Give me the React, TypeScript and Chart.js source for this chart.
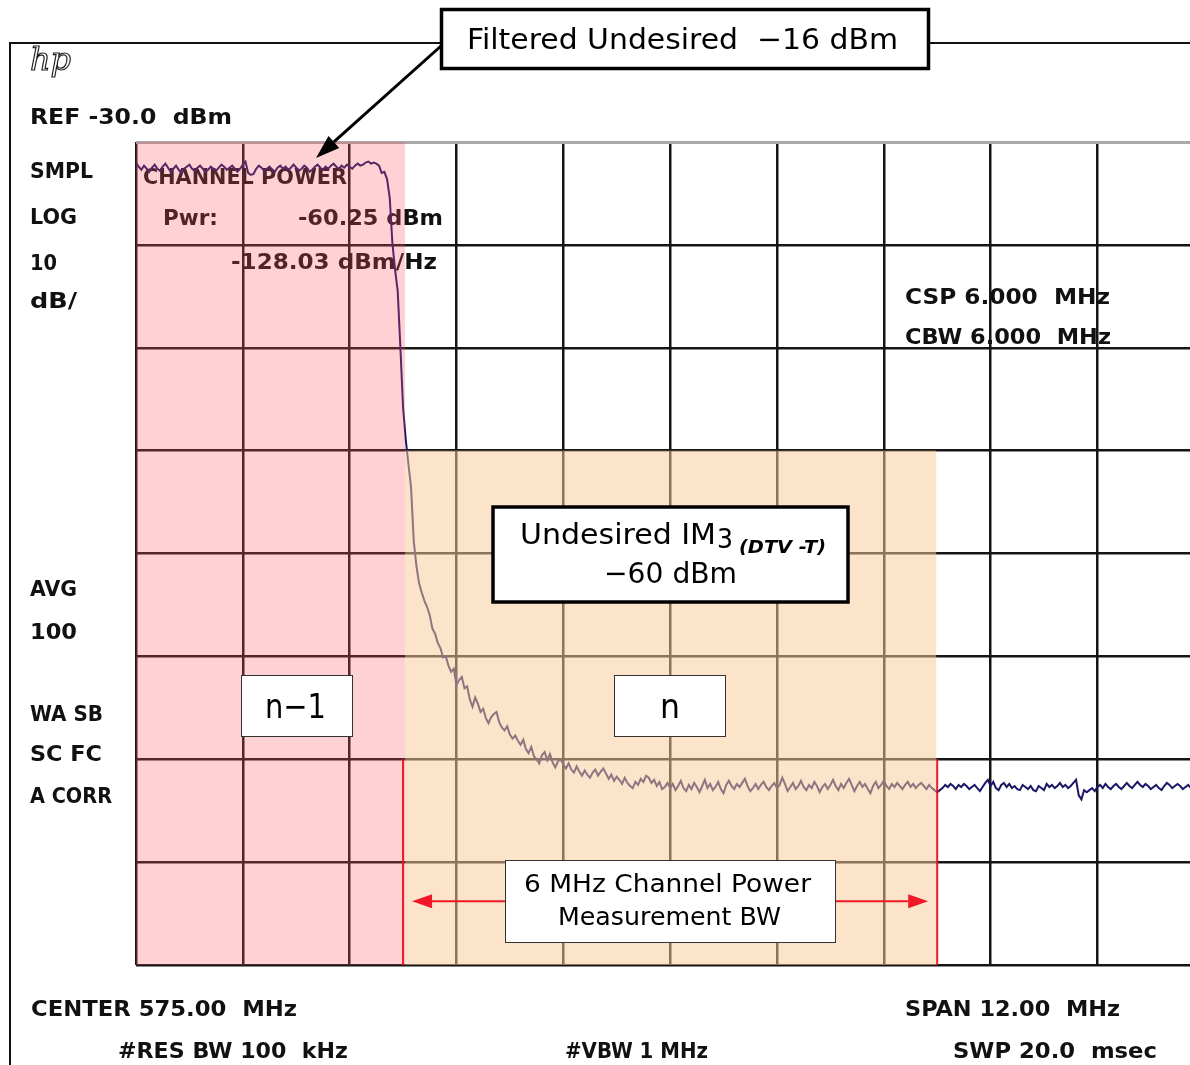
import React, { useEffect, useRef } from "react";
import { Chart, registerables } from "chart.js";

Chart.register(...registerables);

// Sweep: 401 points, CENTER 575.00 MHz, SPAN 12.00 MHz
const START_MHZ = 569;
const STEP_MHZ = 0.03;
const VIEW_MAX_MHZ = 580.84;

// Trace levels in dBm, point by point
const TRACE_PASSBAND = [
  -32.0, -32.4, -32.7, -32.3, -32.6, -32.9, -32.5, -32.2, -32.6, -32.8,
  -32.4, -32.1, -32.5, -32.9, -32.6, -32.3, -32.7, -33.0, -32.6, -32.4,
  -32.2, -32.6, -32.8, -32.5, -32.3, -32.6, -32.9, -32.7, -32.4, -32.6,
  -32.8, -32.5, -32.2, -32.4, -32.7, -32.5, -32.3, -32.6, -32.9, -32.6,
  -32.2, -31.9, -33.0, -33.2, -33.1, -32.6, -32.3, -32.5, -32.8, -32.6,
  -32.4, -32.7, -32.9, -32.5, -32.3, -32.6, -32.4, -32.7, -32.5, -32.2,
  -32.5, -32.8, -32.6, -32.3, -32.5, -32.9, -32.7, -32.4, -32.2, -32.5,
  -32.7, -32.4, -32.6, -32.3, -32.1, -32.4, -32.6, -32.3, -32.5, -32.2,
  -32.4, -32.6, -32.3, -32.1, -32.3, -32.2, -32.0, -31.9, -32.1, -32.0,
  -32.1, -32.3, -33.0,
];

const TRACE_SKIRT = [
  -32.9, -33.6, -35.4, -39.8, -42.4, -44.5, -50.0,
  -55.8, -58.9, -61.3, -63.6, -68.8, -71.2, -72.9, -73.8, -74.6, -75.2,
  -76.0, -77.3, -77.8, -78.7, -79.2, -80.1, -80.0, -80.9, -81.5, -81.2,
  -82.8, -82.3, -82.0, -83.1, -82.9, -84.2, -84.9, -84.0, -84.6, -85.4,
  -85.1, -86.0, -86.5, -85.9, -85.6, -85.4, -86.4, -86.9, -87.2, -86.8,
  -87.6, -88.0, -87.7, -88.2, -88.6, -88.1, -89.0, -89.4, -88.8, -89.7,
  -90.0, -90.4, -89.6, -89.3, -90.1, -89.5, -90.3, -90.8, -90.2, -90.0,
  -90.5, -90.9, -90.4, -91.0, -91.3, -90.7, -91.2, -91.6, -91.1, -91.5,
  -91.8, -91.3, -91.0, -91.6, -91.2, -90.9, -91.4, -91.9, -91.5, -92.1,
  -91.7, -92.0, -92.4, -91.8, -92.3, -92.6, -92.8, -92.2, -92.5, -91.9,
  -92.2, -91.6, -91.8, -92.3, -92.0, -92.6, -92.2, -92.9, -92.7, -92.3,
  -92.8,
];

const TRACE_FLOOR = [
  -92.4, -93.0, -92.6, -92.1, -92.8, -93.1, -92.5, -92.9, -92.3, -92.7,
  -93.2, -92.6, -92.0, -92.8, -92.4, -93.0, -92.7, -92.2, -92.9, -93.3,
  -92.5, -92.1, -92.6, -92.9, -92.4, -92.7, -92.3, -91.9, -92.6, -93.1,
  -92.8, -92.4, -92.9, -92.5, -92.2, -92.7, -93.0, -92.6, -92.3, -92.8,
  -92.5, -91.8, -92.4, -93.1, -92.7, -92.3, -92.9, -92.6, -92.1, -92.7,
  -93.0, -92.5, -92.8, -92.2, -92.6, -93.2, -92.7, -92.4, -92.9, -92.5,
  -92.0, -92.6, -93.0, -92.4, -92.8, -92.3, -91.9, -92.5, -93.1, -92.6,
  -92.2, -92.7, -92.4, -92.9, -93.3, -92.6, -92.2, -92.8, -92.5, -92.1,
  -92.6, -92.9, -92.4, -92.7, -92.3, -92.6, -92.9, -92.5, -92.2, -92.7,
  -92.4, -92.8, -92.5, -92.3, -92.6, -92.9, -92.5, -92.8, -93.0, -93.2,
  -93.0, -92.8, -92.5, -92.7, -92.4, -92.6, -92.9, -92.5, -92.7, -92.4,
  -92.6, -92.9, -92.7, -92.5, -92.8, -93.1, -92.7, -92.3, -92.0, -92.6,
  -92.2, -92.8, -93.0, -92.5, -92.3, -92.7, -92.4, -92.8, -92.6, -92.9,
  -93.0, -92.5, -92.7, -92.9, -92.6, -93.0, -93.1, -92.6, -92.8, -93.0,
  -92.4, -92.7, -92.5, -92.8, -92.6, -92.3, -92.7, -92.5, -92.8, -92.6,
  -92.3, -92.0, -93.5, -93.9, -93.0, -93.2, -93.0, -92.8, -93.1, -92.7,
  -92.5, -92.8, -92.4, -92.7, -92.9, -92.6, -92.4, -92.7, -92.9, -92.6,
  -92.3, -92.6, -92.8, -92.5, -92.2, -92.5, -92.7, -92.4, -92.6, -92.9,
  -92.7, -92.5, -92.8, -93.0, -92.6, -92.3, -92.5, -92.8, -92.6, -92.4,
  -92.6, -92.9, -92.7, -92.5, -92.8, -92.6, -92.4, -92.7, -92.5, -92.6,
];

const TRACE = [...TRACE_PASSBAND, ...TRACE_SKIRT, ...TRACE_FLOOR];

// Graticule: 1.2 MHz/div, 10 dB/div from REF -30 dBm
const FREQ_GRID = [569.0, 570.2, 571.4, 572.6, 573.8, 575.0, 576.2, 577.4, 578.6, 579.8];
const LEVEL_GRID = [-30, -40, -50, -60, -70, -80, -90, -100, -110];
const REF_LEVEL = -30;
const BOTTOM_LEVEL = -110;

// Channels and measurement markers
const CH_LOWER = [566, 572]; // n-1
const CH_MEAS = [572, 578]; // n
const IM3_LEVEL = -60;
const BW_MARK_TOP = -90;
const BW_ARROW_LEVEL = -103.8;

// Instrument readouts: [text, left, right, centre y]
const SIDE_LABELS: [string, number, number, number][] = [
  ["REF -30.0  dBm", 30, 232, 115.5],
  ["SMPL", 30, 93, 169.5],
  ["LOG", 30, 77, 216],
  ["10", 30, 57, 262],
  ["dB/", 30, 77, 300],
  ["AVG", 30, 77, 588],
  ["100", 30, 77, 631],
  ["WA SB", 30, 103, 713],
  ["SC FC", 30, 102, 753],
  ["A CORR", 30, 112, 795],
  ["CSP 6.000  MHz", 905, 1110, 296],
  ["CBW 6.000  MHz", 905, 1111, 336],
  ["CENTER 575.00  MHz", 31, 297, 1008],
  ["SPAN 12.00  MHz", 905, 1120, 1008],
  ["#RES BW 100  kHz", 118, 348, 1050],
  ["#VBW 1 MHz", 565, 708, 1050],
  ["SWP 20.0  msec", 953, 1157, 1050],
];

const PLOT_LABELS: [string, number, number, number][] = [
  ["CHANNEL POWER", 143, 347, 176],
  ["Pwr:", 163, 218, 217],
  ["-60.25 dBm", 298, 443, 217],
  ["-128.03 dBm/Hz", 231, 437, 261],
];

const HP_FONT = 'bold 22px "DejaVu Sans", sans-serif';
const NOTE_FONT = '"DejaVu Sans", "Open Sans", sans-serif';

function fitText(
  ctx: CanvasRenderingContext2D,
  text: string,
  left: number,
  right: number,
  baseline: number,
  font: string,
  color = "#111"
) {
  ctx.save();
  ctx.font = font;
  ctx.fillStyle = color;
  ctx.textAlign = "left";
  ctx.textBaseline = "alphabetic";
  const w = ctx.measureText(text).width;
  ctx.translate(left, baseline);
  ctx.scale((right - left) / w, 1);
  ctx.fillText(text, 0, 0);
  ctx.restore();
}

function hpText(ctx: CanvasRenderingContext2D, item: [string, number, number, number]) {
  const [text, l, r, cy] = item;
  fitText(ctx, text, l, r, cy + 8, HP_FONT, "#111");
}

function arrow(
  ctx: CanvasRenderingContext2D,
  x1: number,
  y1: number,
  x2: number,
  y2: number,
  color: string,
  lw: number,
  headLen: number,
  headHalf: number
) {
  const ang = Math.atan2(y2 - y1, x2 - x1);
  const bx = x2 - Math.cos(ang) * headLen;
  const by = y2 - Math.sin(ang) * headLen;
  ctx.save();
  ctx.strokeStyle = color;
  ctx.fillStyle = color;
  ctx.lineWidth = lw;
  ctx.beginPath();
  ctx.moveTo(x1, y1);
  ctx.lineTo(bx, by);
  ctx.stroke();
  ctx.beginPath();
  ctx.moveTo(x2, y2);
  ctx.lineTo(bx + Math.sin(ang) * headHalf, by - Math.cos(ang) * headHalf);
  ctx.lineTo(bx - Math.sin(ang) * headHalf, by + Math.cos(ang) * headHalf);
  ctx.closePath();
  ctx.fill();
  ctx.restore();
}

function box(
  ctx: CanvasRenderingContext2D,
  x: number,
  y: number,
  w: number,
  h: number,
  lw: number,
  stroke: string
) {
  ctx.save();
  ctx.fillStyle = "#ffffff";
  ctx.fillRect(x, y, w, h);
  ctx.strokeStyle = stroke;
  ctx.lineWidth = lw;
  ctx.strokeRect(x, y, w, h);
  ctx.restore();
}

const analyzerPlugin = {
  id: "analyzerScreen",
  beforeDraw(chart: Chart) {
    const ctx = chart.ctx;
    ctx.save();
    ctx.fillStyle = "#ffffff";
    ctx.fillRect(0, 0, chart.width, chart.height);
    ctx.restore();
  },
  beforeDatasetsDraw(chart: Chart) {
    const ctx = chart.ctx;
    PLOT_LABELS.forEach((it) => hpText(ctx, it));
  },
  afterDatasetsDraw(chart: Chart) {
    const ctx = chart.ctx;
    const xs = chart.scales.x;
    const ys = chart.scales.y;
    const area = chart.chartArea;
    const top = ys.getPixelForValue(REF_LEVEL);
    const bottom = ys.getPixelForValue(BOTTOM_LEVEL);
    const edge = xs.getPixelForValue(CH_MEAS[0]);
    const measRight = xs.getPixelForValue(CH_MEAS[1]);

    ctx.save();
    // n-1 channel shading
    ctx.fillStyle = "rgba(250, 90, 100, 0.27)";
    const lx = Math.max(xs.getPixelForValue(CH_LOWER[0]), area.left);
    ctx.fillRect(lx, top, edge + 2 - lx, bottom - top);
    // n channel shading below the IM3 level
    ctx.fillStyle = "rgba(250, 203, 155, 0.52)";
    const imY = ys.getPixelForValue(IM3_LEVEL);
    ctx.fillRect(edge + 2, imY, measRight - 1 - (edge + 2), bottom - imY);

    // measurement bandwidth markers
    ctx.strokeStyle = "#f01828";
    ctx.lineWidth = 2;
    const markTop = ys.getPixelForValue(BW_MARK_TOP);
    [edge, measRight].forEach((px) => {
      ctx.beginPath();
      ctx.moveTo(px, markTop);
      ctx.lineTo(px, bottom);
      ctx.stroke();
    });
    ctx.restore();

    const ay = ys.getPixelForValue(BW_ARROW_LEVEL);
    arrow(ctx, 505, ay, edge + 9, ay, "#f01828", 2, 20, 7);
    arrow(ctx, 835, ay, measRight - 9, ay, "#f01828", 2, 20, 7);

    // channel tags
    box(ctx, 241.5, 675.5, 111, 61, 1, "#333");
    fitText(ctx, "n\u22121", 265, 326, 718, `34px ${NOTE_FONT}`, "#000");
    box(ctx, 614.5, 675.5, 111, 61, 1, "#333");
    fitText(ctx, "n", 660, 680, 718, `34px ${NOTE_FONT}`, "#000");

    // IM3 callout
    box(ctx, 493, 507, 355, 95, 3.5, "#000");
    fitText(ctx, "Undesired IM", 520, 716, 544, `29px ${NOTE_FONT}`, "#000");
    fitText(ctx, "3", 717, 733, 548, `27px ${NOTE_FONT}`, "#000");
    fitText(ctx, "(DTV -T)", 739, 826, 553, `italic bold 17px ${NOTE_FONT}`, "#000");
    fitText(ctx, "\u221260 dBm", 604, 737, 583, `29px ${NOTE_FONT}`, "#000");

    // bandwidth callout
    box(ctx, 505.5, 860.5, 330, 82, 1, "#333");
    fitText(ctx, "6 MHz Channel Power", 524, 811, 892, `25px ${NOTE_FONT}`, "#000");
    fitText(ctx, "Measurement BW", 558, 781, 925, `25px ${NOTE_FONT}`, "#000");
  },
  afterDraw(chart: Chart) {
    const ctx = chart.ctx;
    ctx.save();
    // screen frame
    ctx.strokeStyle = "#111";
    ctx.lineWidth = 2;
    ctx.beginPath();
    ctx.moveTo(10, 1065);
    ctx.lineTo(10, 43);
    ctx.lineTo(1190, 43);
    ctx.stroke();

    // logo
    ctx.font = 'italic 32px "DejaVu Serif", serif';
    ctx.lineWidth = 1.2;
    ctx.strokeStyle = "#222";
    ctx.strokeText("hp", 30, 70);
    ctx.restore();

    SIDE_LABELS.forEach((it) => hpText(ctx, it));

    // filtered-undesired callout
    box(ctx, 441.5, 9.5, 487, 59, 3.5, "#000");
    fitText(ctx, "Filtered Undesired  \u221216 dBm", 467, 898, 49, `29px ${NOTE_FONT}`, "#000");
    arrow(ctx, 441, 46, 316, 158, "#000", 3, 24, 8);
  },
};

export default function App() {
  const canvasRef = useRef<HTMLCanvasElement>(null);

  useEffect(() => {
    const canvas = canvasRef.current;
    if (!canvas) return;
    const chart = new Chart(canvas, {
      type: "line",
      data: {
        datasets: [
          {
            data: TRACE.map((y, i) => ({ x: START_MHZ + i * STEP_MHZ, y })),
            borderColor: "#1c1666",
            borderWidth: 2,
            pointRadius: 0,
            tension: 0,
          },
        ],
      },
      options: {
        responsive: false,
        animation: false,
        devicePixelRatio: 1,
        events: [],
        layout: { padding: { left: 136, top: 142, right: 0, bottom: 100 } },
        plugins: { legend: { display: false }, tooltip: { enabled: false } },
        scales: {
          x: {
            type: "linear",
            min: START_MHZ,
            max: VIEW_MAX_MHZ,
            ticks: { display: false },
            border: { display: false },
            grid: { color: "#151515", lineWidth: 2.5, drawTicks: false },
            afterBuildTicks: (s: any) => {
              s.ticks = FREQ_GRID.map((v) => ({ value: v }));
            },
          },
          y: {
            type: "linear",
            min: BOTTOM_LEVEL,
            max: REF_LEVEL,
            ticks: { display: false },
            border: { display: false },
            grid: {
              drawTicks: false,
              color: (c: any) => (c.tick && c.tick.value === REF_LEVEL ? "#a8a8a8" : "#151515"),
              lineWidth: (c: any) => (c.tick && c.tick.value === REF_LEVEL ? 3 : 2.5),
            },
            afterBuildTicks: (s: any) => {
              s.ticks = LEVEL_GRID.map((v) => ({ value: v }));
            },
          },
        },
      },
      plugins: [analyzerPlugin as any],
    });
    return () => chart.destroy();
  }, []);

  return (
    <div
      style={{
        position: "absolute",
        left: 0,
        top: 0,
        width: 1190,
        height: 1065,
        overflow: "hidden",
        background: "#fff",
      }}
    >
      <canvas ref={canvasRef} width={1190} height={1065} style={{ display: "block", width: 1190, height: 1065 }} />
    </div>
  );
}
